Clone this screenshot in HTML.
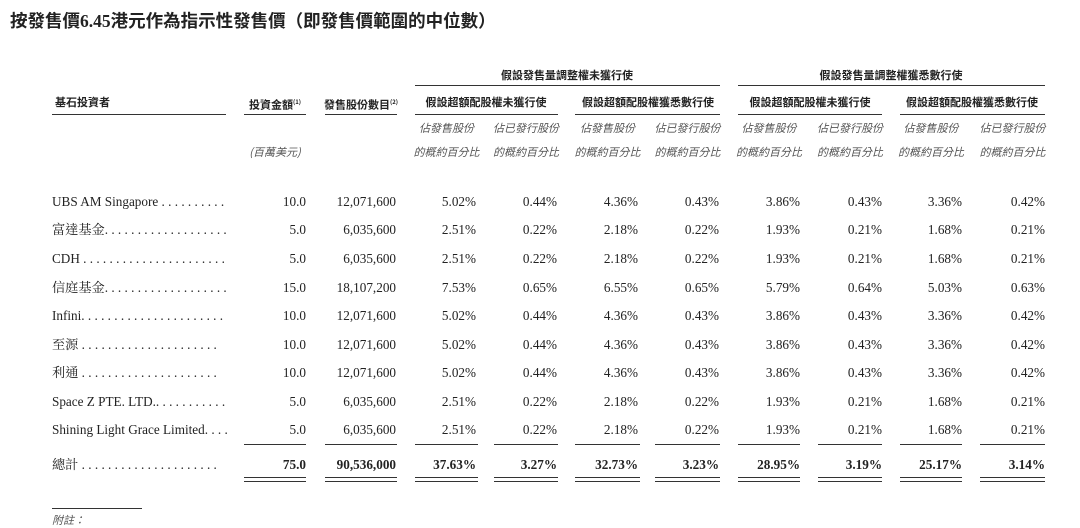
<!DOCTYPE html>
<html><head><meta charset="utf-8"><style>
body{margin:0;width:1080px;height:527px;background:#fff;position:relative;overflow:hidden;font-family:"Liberation Serif","Noto Serif CJK TC",serif;color:#222}
.a{position:absolute;white-space:nowrap;line-height:16px}
.t{font-family:"Liberation Serif","Noto Sans CJK TC",sans-serif;font-weight:bold;font-size:17.5px;left:10px;top:11px;line-height:20px}
.h{font-family:"Noto Sans CJK TC",sans-serif;font-weight:bold;font-size:11px;transform:translateX(-50%)}
.i{font-family:"Noto Sans CJK TC",sans-serif;font-style:italic;font-size:11px;color:#555;transform:translateX(-50%)}
.l{position:absolute;height:1.3px;background:#333}
.r{font-size:13.2px;transform:translateX(-100%)}
.n{font-size:13.2px;left:52px}
.b{font-weight:bold}
</style></head><body>
<div class="a t">按發售價6.45港元作為指示性發售價（即發售價範圍的中位數）</div>
<div class="a h" style="left:567px;top:67px">假設發售量調整權未獲行使</div>
<div class="a h" style="left:891px;top:67px">假設發售量調整權獲悉數行使</div>
<div class="l" style="left:415px;width:305px;top:85px"></div>
<div class="l" style="left:738px;width:307px;top:85px"></div>
<div class="a h" style="left:55px;top:94px;transform:none">基石投資者</div>
<div class="a h" style="left:275px;top:94px">投資金額<sup style="font-size:6px">(1)</sup></div>
<div class="a h" style="left:361px;top:94px">發售股份數目<sup style="font-size:6px">(2)</sup></div>
<div class="a h" style="left:486px;top:94px">假設超額配股權未獲行使</div>
<div class="a h" style="left:648px;top:94px">假設超額配股權獲悉數行使</div>
<div class="a h" style="left:810px;top:94px">假設超額配股權未獲行使</div>
<div class="a h" style="left:972px;top:94px">假設超額配股權獲悉數行使</div>
<div class="l" style="left:52px;width:174px;top:114px"></div>
<div class="l" style="left:244px;width:62px;top:114px"></div>
<div class="l" style="left:325px;width:72px;top:114px"></div>
<div class="l" style="left:415px;width:143px;top:114px"></div>
<div class="l" style="left:575px;width:145px;top:114px"></div>
<div class="l" style="left:738px;width:144px;top:114px"></div>
<div class="l" style="left:900px;width:145px;top:114px"></div>
<div class="a i" style="left:275px;top:144px">(百萬美元)</div>
<div id="rows"></div>
<div class="l" style="left:52px;width:90px;top:508px"></div>
<div class="a i" style="left:52px;top:512px;transform:none">附註：</div>
<script>
var rc=[306,396,476,557,638,719,800,882,962,1045];
var lines=[[244,306],[325,397],[415,478],[494,558],[575,640],[655,720],[738,800],[818,882],[900,962],[980,1045]];
var h='';
for(var k=2;k<10;k++){var c=(lines[k][0]+lines[k][1])/2;var w=(k%2==0)?'佔發售股份':'佔已發行股份';
h+='<div class="a i" style="left:'+c+'px;top:120px">'+w+'</div><div class="a i" style="left:'+c+'px;top:144px">的概約百分比</div>';}
var data=[
["UBS AM Singapore . . . . . . . . . .","10.0","12,071,600","5.02%","0.44%","4.36%","0.43%","3.86%","0.43%","3.36%","0.42%"],
["富達基金. . . . . . . . . . . . . . . . . . .","5.0","6,035,600","2.51%","0.22%","2.18%","0.22%","1.93%","0.21%","1.68%","0.21%"],
["CDH . . . . . . . . . . . . . . . . . . . . . .","5.0","6,035,600","2.51%","0.22%","2.18%","0.22%","1.93%","0.21%","1.68%","0.21%"],
["信庭基金. . . . . . . . . . . . . . . . . . .","15.0","18,107,200","7.53%","0.65%","6.55%","0.65%","5.79%","0.64%","5.03%","0.63%"],
["Infini. . . . . . . . . . . . . . . . . . . . . .","10.0","12,071,600","5.02%","0.44%","4.36%","0.43%","3.86%","0.43%","3.36%","0.42%"],
["至源 . . . . . . . . . . . . . . . . . . . . .","10.0","12,071,600","5.02%","0.44%","4.36%","0.43%","3.86%","0.43%","3.36%","0.42%"],
["利通 . . . . . . . . . . . . . . . . . . . . .","10.0","12,071,600","5.02%","0.44%","4.36%","0.43%","3.86%","0.43%","3.36%","0.42%"],
["Space Z PTE. LTD.. . . . . . . . . . .","5.0","6,035,600","2.51%","0.22%","2.18%","0.22%","1.93%","0.21%","1.68%","0.21%"],
["Shining Light Grace Limited. . . .","5.0","6,035,600","2.51%","0.22%","2.18%","0.22%","1.93%","0.21%","1.68%","0.21%"],
["總計 . . . . . . . . . . . . . . . . . . . . .","75.0","90,536,000","37.63%","3.27%","32.73%","3.23%","28.95%","3.19%","25.17%","3.14%"]];
var ys=[194,222,251,280,308,337,365,394,422,457];
for(var r=0;r<data.length;r++){var b=r==9?' b':'';
h+='<div class="a n" style="top:'+ys[r]+'px">'+data[r][0]+'</div>';
for(var j=0;j<10;j++)h+='<div class="a r'+b+'" style="left:'+rc[j]+'px;top:'+ys[r]+'px">'+data[r][j+1]+'</div>';}
for(var j=0;j<10;j++){var L=lines[j][0],W=lines[j][1]-lines[j][0];
h+='<div class="l" style="left:'+L+'px;width:'+W+'px;top:444px"></div><div class="l" style="left:'+L+'px;width:'+W+'px;top:477px"></div><div class="l" style="left:'+L+'px;width:'+W+'px;top:481px"></div>';}
document.getElementById('rows').innerHTML=h;
</script>
</body></html>
